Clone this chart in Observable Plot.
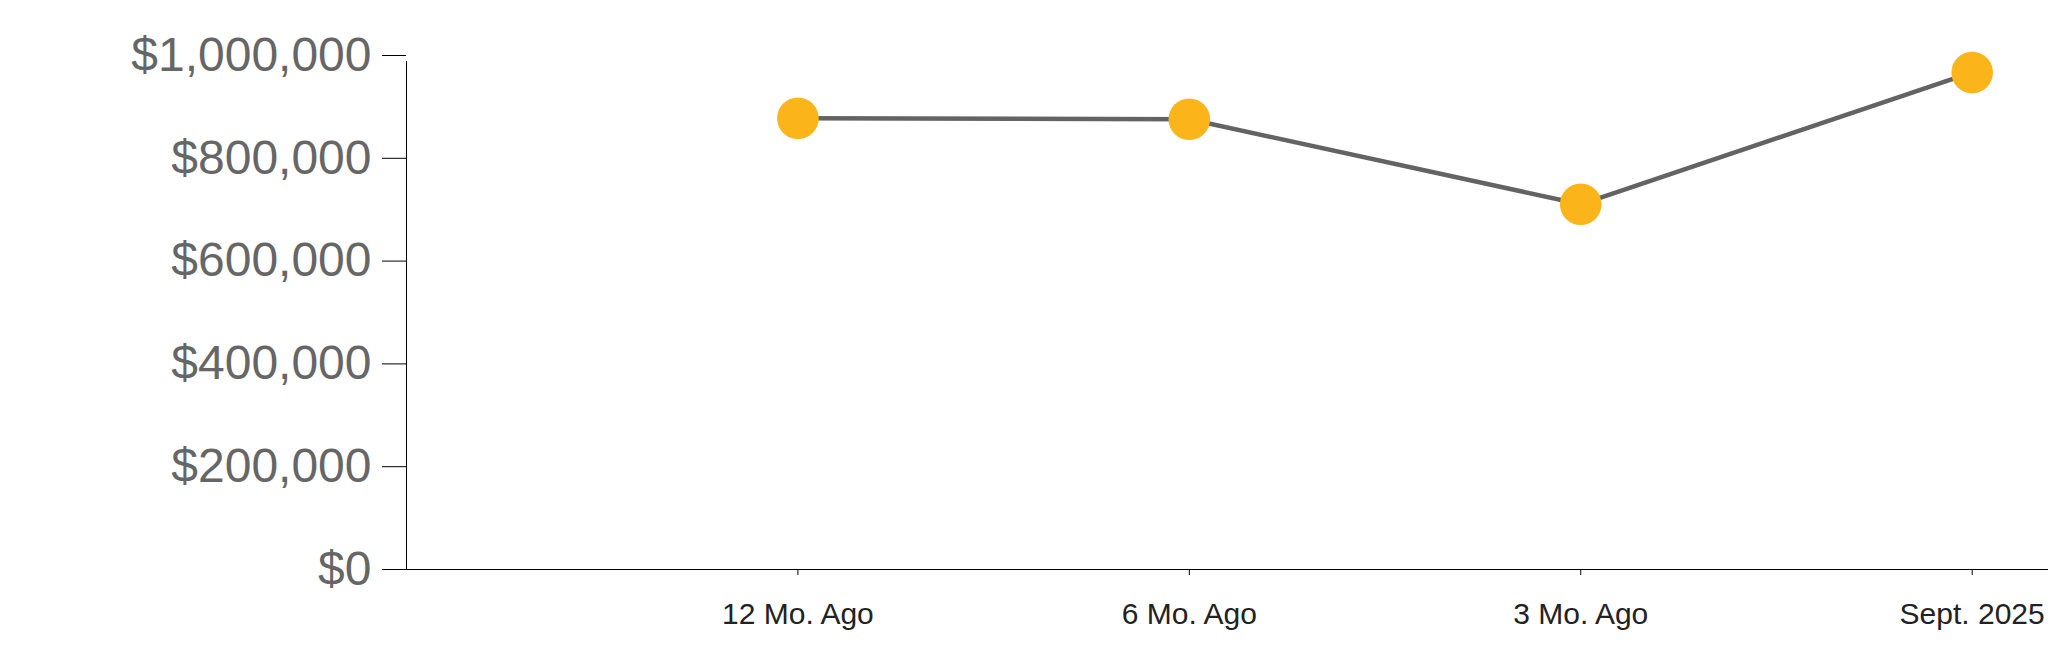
<!DOCTYPE html>
<html>
<head>
<meta charset="utf-8">
<script src="https://cdn.jsdelivr.net/npm/d3@7"></script>
<script src="https://cdn.jsdelivr.net/npm/@observablehq/plot@0.6"></script>
<style>
  html, body { margin: 0; padding: 0; background: #fff; }
  #chart svg { display: block; }
</style>
</head>
<body>
<div id="chart"></div>
<script>
const categories = ["12 Mo. Ago", "6 Mo. Ago", "3 Mo. Ago", "Sept. 2025"];
const values = [878000, 876000, 710500, 967000];
const yTicks = [0, 200000, 400000, 600000, 800000, 1000000];

const data = categories.map((c, i) => ({pos: i + 1, label: c, value: values[i]}));
const fmt = d => "$" + d3.format(",")(d);

const chart = Plot.plot({
  width: 2048,
  height: 663,
  marginLeft: 406,
  marginRight: 0,
  marginTop: 55,
  marginBottom: 94,
  style: {fontFamily: "'Liberation Sans', Arial, sans-serif", background: "#fff"},
  x: {type: "linear", domain: [0, 4.195]},
  y: {domain: [0, 1000000]},
  marks: [
    Plot.ruleX([0], {y1: 0, y2: 1000000, stroke: "#000", strokeWidth: 1, insetBottom: -6}),
    Plot.ruleY([0], {stroke: "#000", strokeWidth: 1}),
    // y tick lines
    Plot.axisY({
      ticks: yTicks, tickSize: 24, tickFormat: () => "",
      stroke: "#000", strokeOpacity: 1, label: null
    }),
    // y tick labels
    Plot.axisY({
      ticks: yTicks, tickSize: 0, tickPadding: 35, tickFormat: fmt,
      fontSize: 48, fill: "#666", dy: 0, label: null
    }),
    Plot.axisX({
      ticks: data.map(d => d.pos), tickSize: 6, tickPadding: 27,
      tickFormat: p => categories[p - 1],
      fontSize: 30, fill: "#222", stroke: "#000", strokeOpacity: 1, label: null
    }),
    Plot.line(data, {x: "pos", y: "value", stroke: "#636363", strokeWidth: 4.5}),
    Plot.dot(data, {x: "pos", y: "value", r: 20.8, fill: "#FBB51A", stroke: "none"})
  ]
});
document.getElementById("chart").appendChild(chart);
</script>
</body>
</html>
